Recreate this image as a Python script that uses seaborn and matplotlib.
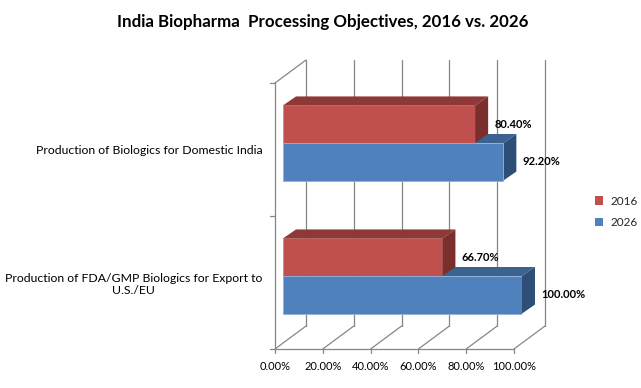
import matplotlib
matplotlib.use("Agg")
import numpy as np
import pandas as pd
import seaborn as sns
import matplotlib.pyplot as plt
from matplotlib.lines import Line2D
from matplotlib.patches import Polygon, Patch
from matplotlib.transforms import IdentityTransform, ScaledTranslation

# ---------------- data ----------------
categories = ["Production of Biologics for Domestic India",
              "Production of FDA/GMP Biologics for Export to\nU.S./EU"]
years = ["2016", "2026"]
values_2016 = [0.804, 0.667]
values_2026 = [0.922, 1.000]
xticks = [0.0, 0.2, 0.4, 0.6, 0.8, 1.0]
xticklabels = ["0.00%", "20.00%", "40.00%", "60.00%", "80.00%", "100.00%"]
title = "India Biopharma  Processing Objectives, 2016 vs. 2026"

front_colors = {"2016": "#C0504D", "2026": "#4F81BD"}
top_colors = {"2016": "#8E3937", "2026": "#3C6291"}
side_colors = {"2016": "#7A2F2D", "2026": "#2F4E77"}
edge_colors = {"2016": "#D58886", "2026": "#8FB0D8"}
grid_color = "#868686"

df = pd.DataFrame({
    "category": categories * 2,
    "year": [years[0]] * len(categories) + [years[1]] * len(categories),
    "value": values_2016 + values_2026,
})

sns.set_theme(style="white")
plt.rcParams["font.family"] = ["Lato", "DejaVu Sans"]

W, H = 641, 388
fig = plt.figure(figsize=(W / 100, H / 100), dpi=100)
fig.patch.set_facecolor("white")

# bar plane geometry (pixels)
x_left, unit = 283, 239
y_top, y_bot = 143 - 66.5, 276 + 66.5
ax = fig.add_axes([x_left / W, 1 - y_bot / H, unit / W, (y_bot - y_top) / H])
ax.set_facecolor("none")

sns.barplot(data=df, y="category", x="value", hue="year", hue_order=years,
            order=categories, palette=front_colors, orient="h", width=0.565,
            saturation=1, ax=ax, legend=False, zorder=2, linewidth=0)

ax.set_xlim(0, 1)
ax.set_ylim(1.5, -0.5)
for s in ax.spines.values():
    s.set_visible(False)
ax.set_xlabel("")
ax.set_ylabel("")

FRONT = (-8, -6.5)
BACK = (23, 16.5)
DEPTH = (13, 9)


def P(x, y, off=(0, 0)):
    px, py = ax.transData.transform((x, y))
    return (px + off[0], py + off[1])


def line(p1, p2, z=0.5, lw=0.9):
    ax.add_line(Line2D([p1[0], p2[0]], [p1[1], p2[1]], color=grid_color, lw=lw,
                       transform=IdentityTransform(), clip_on=False, zorder=z))


ylo, yhi = 1.5, -0.5  # bottom, top in data
for xt in xticks:
    line(P(xt, ylo, BACK), P(xt, yhi, BACK))
    line(P(xt, ylo, FRONT), P(xt, ylo, BACK))
    b = P(xt, ylo, FRONT)
    line(b, (b[0], b[1] - 4))
line(P(0, yhi, FRONT), P(0, ylo, FRONT))
line(P(0, yhi, FRONT), P(0, yhi, BACK))
line(P(0, ylo, FRONT), P(1, ylo, FRONT))
for yb in [-0.5, 0.5, 1.5]:
    p = P(0, yb, FRONT)
    line((p[0] - 5, p[1]), p)

# 3D depth faces for bars
for yr, cont in zip(years, ax.containers):
    z = 1.5 if yr == years[1] else 3
    for bar, val in zip(cont.patches, cont.datavalues):
        bar.set_edgecolor(edge_colors[yr])
        bar.set_linewidth(0.6)
        bar.set_zorder(2)
        x0, yb0 = bar.get_x(), bar.get_y()
        x1, yb1 = x0 + bar.get_width(), yb0 + bar.get_height()
        ytop_d = min(yb0, yb1)  # top in screen (inverted axis)
        ybot_d = max(yb0, yb1)
        ftl, ftr = P(x0, ytop_d), P(x1, ytop_d)
        fbr = P(x1, ybot_d)
        btl, btr = P(x0, ytop_d, DEPTH), P(x1, ytop_d, DEPTH)
        bbr = P(x1, ybot_d, DEPTH)
        ax.add_patch(Polygon([ftl, ftr, btr, btl], closed=True, facecolor=top_colors[yr],
                             edgecolor="none", transform=IdentityTransform(),
                             clip_on=False, zorder=z))
        ax.add_patch(Polygon([ftr, fbr, bbr, btr], closed=True, facecolor=side_colors[yr],
                             edgecolor="none", transform=IdentityTransform(),
                             clip_on=False, zorder=z))
        yc = (ytop_d + ybot_d) / 2
        ax.annotate(f"{val * 100:.2f}%", xy=(val, yc), xytext=(19 * 0.72, 0),
                    textcoords="offset points", ha="left", va="center",
                    fontsize=8, fontweight="bold", color="#000000",
                    annotation_clip=False, zorder=5)

# ticks and labels (shifted to the front plane)
off_front = ScaledTranslation(FRONT[0] / 100, FRONT[1] / 100, fig.dpi_scale_trans)
ax.set_xticks(xticks)
ax.set_xticklabels(xticklabels, fontsize=8, color="#000000")
ax.set_yticks(range(len(categories)))
ax.set_yticklabels(categories, fontsize=8.8, color="#000000", ha="right",
                   multialignment="center")
ax.tick_params(axis="both", length=0)
ax.tick_params(axis="x", pad=8.5)
ax.tick_params(axis="y", pad=9)
for lab in ax.get_xticklabels() + ax.get_yticklabels():
    lab.set_transform(lab.get_transform() + off_front)

fig.text(323 / W, 1 - 22 / H, title, ha="center", va="center",
         fontsize=12.2, fontweight="bold", color="#000000")

handles = [Patch(facecolor=front_colors[y], edgecolor="none") for y in years]
fig.legend(handles, years, loc="center left", bbox_to_anchor=(590 / W, 1 - 212 / H),
           frameon=False, fontsize=8.5, handlelength=0.7, handleheight=0.7,
           handletextpad=0.6, labelspacing=0.9, borderaxespad=0)

fig.savefig("out.png", dpi=100)
